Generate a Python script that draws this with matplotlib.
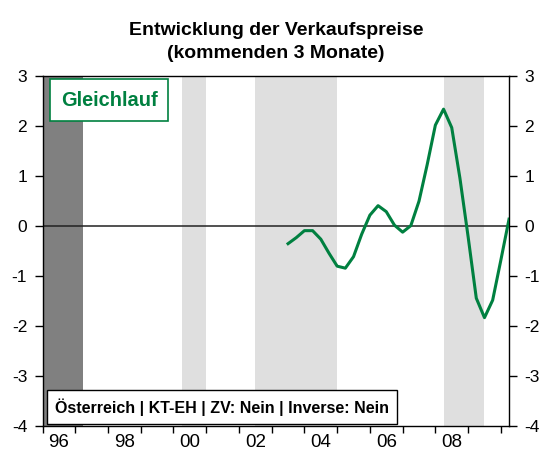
import matplotlib.pyplot as plt
from matplotlib.patches import Rectangle
from matplotlib.ticker import FixedLocator

# --- Daten ---
quarters = ["2003Q3", "2003Q4", "2004Q1", "2004Q2", "2004Q3", "2004Q4",
            "2005Q1", "2005Q2", "2005Q3", "2005Q4", "2006Q1", "2006Q2",
            "2006Q3", "2006Q4", "2007Q1", "2007Q2", "2007Q3", "2007Q4",
            "2008Q1", "2008Q2", "2008Q3", "2008Q4", "2009Q1", "2009Q2",
            "2009Q3", "2009Q4", "2010Q1", "2010Q2"]
values = [-0.36, -0.24, -0.10, -0.10, -0.27, -0.55,
          -0.81, -0.85, -0.62, -0.17, 0.21, 0.40,
          0.28, 0.01, -0.13, 0.00, 0.49, 1.22,
          2.01, 2.33, 1.96, 0.95, -0.22, -1.45,
          -1.84, -1.49, -0.69, 0.13]

# Schattierungen (Beginn, Ende) in Jahren
dark_span = (1996.0, 1997.25)
light_spans = [(2000.25, 2001.0), (2002.5, 2005.0), (2008.25, 2009.5)]

year_ticks = list(range(1996, 2011))
label_years = [1996, 1998, 2000, 2002, 2004, 2006, 2008]
year_labels = ["96", "98", "00", "02", "04", "06", "08"]
y_ticks = [-4, -3, -2, -1, 0, 1, 2, 3]

title = "Entwicklung der Verkaufspreise\n(kommenden 3 Monate)"
box_text = "Österreich | KT-EH | ZV: Nein | Inverse: Nein"
tag_text = "Gleichlauf"

GREEN = "#008040"

# --- Plot ---
plt.rcParams['font.family'] = ['Liberation Sans', 'DejaVu Sans']

def to_year(q):
    return int(q[:4]) + (int(q[-1]) - 1) / 4

x = [to_year(q) for q in quarters]

fig = plt.figure(figsize=(5.45, 4.57), dpi=100)
ax = fig.add_axes([0.078, 0.0685, 0.856, 0.766])

ax.axvspan(dark_span[0], dark_span[1], color="#808080", lw=0, zorder=0)
for a, b in light_spans:
    ax.axvspan(a, b, color="#dfdfdf", lw=0, zorder=0)

ax.axhline(0, color="#222222", lw=1.1, zorder=1)
ax.plot(x, values, color=GREEN, lw=2.2, zorder=3)

ax.set_xlim(1996.0, 2010.25)
ax.set_ylim(-4, 3)

# Jahresstriche ohne Beschriftung, Beschriftung jeweils in Jahresmitte
ax.xaxis.set_major_locator(FixedLocator(year_ticks))
ax.set_xticklabels([])
ax.xaxis.set_minor_locator(FixedLocator([y + 0.5 for y in label_years]))
ax.set_xticklabels(year_labels, minor=True)
ax.tick_params(axis="x", which="major", direction="out", length=5, width=1)
ax.tick_params(axis="x", which="minor", length=0, pad=6, labelsize=13.5)

ax.set_yticks(y_ticks)
ax.set_yticklabels([str(v) for v in y_ticks])
ax.tick_params(axis="y", direction="out", length=6, width=1, pad=5,
               labelsize=12.5, left=True, right=True, labelright=True)

for s in ax.spines.values():
    s.set_linewidth(1.0)
    s.set_color("black")

ax.set_title(title, fontsize=14, fontweight="bold", pad=12.5, linespacing=1.5)

# Kasten "Gleichlauf"
ax.add_patch(Rectangle((0.017, 0.871), 0.252, 0.118, transform=ax.transAxes,
                       facecolor="white", edgecolor=GREEN, lw=1.2, zorder=4))
ax.text(0.143, 0.930, tag_text, transform=ax.transAxes, ha="center", va="center",
        color=GREEN, fontsize=14.4, fontweight="bold", zorder=5)

# Kasten unten
ax.add_patch(Rectangle((0.009, 0.004), 0.751, 0.098, transform=ax.transAxes,
                       facecolor="white", edgecolor="black", lw=1.0, zorder=4))
ax.text(0.384, 0.054, box_text, transform=ax.transAxes, ha="center", va="center",
        color="black", fontsize=11.5, fontweight="bold", zorder=5)

fig.savefig("out.png", dpi=100)
